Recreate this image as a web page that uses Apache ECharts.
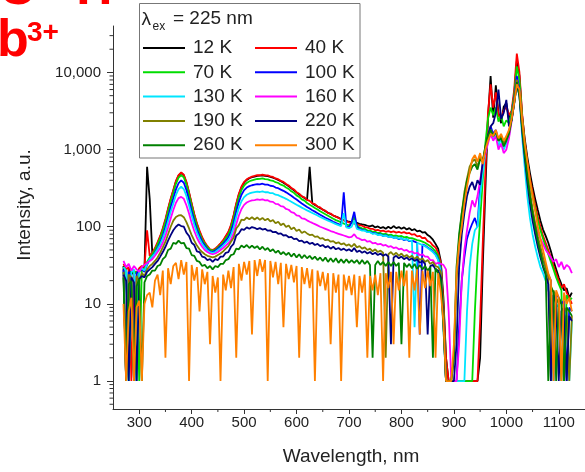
<!DOCTYPE html>
<html><head><meta charset="utf-8">
<script src="https://cdn.jsdelivr.net/npm/echarts@6/dist/echarts.min.js"></script>
<style>html,body{margin:0;padding:0;background:#fff}#c{width:585px;height:472px}</style>
</head><body><div id="c"></div>
<script>
const FONT = "'Liberation Sans', Arial, sans-serif";
const wavelength = [
270,275,280,285,290,295,300,305,310,315,
320,325,330,335,340,345,350,355,360,365,
370,375,380,385,390,395,400,405,410,415,
420,425,430,435,440,445,450,455,460,465,
470,475,480,485,490,495,500,505,510,515,
520,525,530,535,540,545,550,555,560,565,
570,575,580,585,590,595,600,605,610,615,
620,625,630,635,640,645,650,655,660,665,
670,675,680,685,690,695,700,705,710,715,
720,725,730,735,740,745,750,755,760,765,
770,775,780,785,790,795,800,805,810,815,
820,825,830,835,840,845,850,855,860,865,
870,875,880,885,890,895,
900,905,910,915,920,925,930,935,940,945,
950,955,960,965,970,975,980,985,990,995,
1000,1005,1010,1015,1020,1025,1030,1035,1040,1045,
1050,1055,1060,1065,1070,1075,1080,1085,1090,1095,
1100,1105,1110,1115,1120,1125];

const s12K = [
31,1,29,24,27,1,26,30,28,600,
230,44,51,60,74,93,121,168,226,295,
385,460,498,465,372,275,196,142,108,86,
71,61,55,50,49,51,55,60,65,74,
84,103,138,194,262,324,372,404,425,438,
447,455,460,463,458,452,444,433,419,404,
389,373,354,335,316,297,279,262,248,235,
223,600,202,192,183,174,167,159,152,146,
140,135,131,126,122,119,116,115,113,112,
109,107,106,103,101,104,98,101,96,99,
94,100,95,102,96,99,94,98,92,96,
90,93,87,89,84,85,78,74,68,60,
52,36,12,2,1,1,
1,1,1,1,1,1,1,1,1,1,
2,30,300,2500,9000,2600,6800,3000,2200,3600,
4000,2500,3000,5200,14000,9000,2800,1400,800,500,
330,230,165,120,92,76,62,48,36,28,
22,18,15,16,12,14];

const s40K = [
33,28,30,1,27,25,29,31,30,90,
42,46,53,63,76,96,126,172,232,300,
392,468,505,472,382,281,201,146,111,89,
73,63,56,51,50,52,56,61,67,76,
86,106,142,200,268,332,380,412,432,446,
455,466,465,475,463,462,449,442,423,413,
393,382,358,343,318,304,280,268,248,240,
223,216,201,196,182,178,165,162,150,148,
140,135,130,125,121,117,114,112,110,107,
105,103,99,98,94,94,90,91,88,89,
86,88,85,87,84,86,83,85,82,83,
79,80,75,76,71,72,65,63,57,54,
46,34,10,2,1,1,
1,1,1,1,1,1,1,1,1,1,
6,60,500,3000,7000,3500,5500,2800,2500,3200,
3600,2800,3200,6000,17600,10000,3000,1300,700,420,
280,190,135,100,76,62,50,40,31,25,
20,16,18,14,12,10];

const s70K = [
30,27,1,28,25,26,1,29,28,35,
40,44,50,59,71,89,116,158,212,275,
360,432,465,436,352,258,185,134,102,82,
68,60,54,50,49,50,54,58,63,71,
79,96,128,180,241,298,342,370,389,400,
408,416,417,423,413,412,399,394,378,369,
351,342,322,309,288,275,255,244,226,218,
203,193,184,175,167,159,152,145,139,133,
127,122,118,114,110,107,104,112,135,104,
98,95,94,90,89,86,86,83,83,80,
81,78,79,76,77,75,76,73,74,71,
71,69,67,66,64,62,59,56,52,48,
42,30,8,1,1,1,
1,1,1,1,1,1,1,1,8,40,
120,400,1200,2500,3500,2800,3500,2300,2800,2000,
2400,2200,3000,5000,12000,8000,2600,1200,650,380,
250,170,120,90,70,55,44,35,28,22,
18,15,1,13,11,12];

const s100K = [
28,1,26,24,1,25,27,28,26,32,
38,41,46,53,63,77,99,134,180,234,
305,366,400,372,300,222,160,118,92,76,
64,57,51,48,47,49,52,56,60,66,
73,86,112,158,210,260,298,322,336,345,
351,356,355,361,351,351,340,337,322,316,
303,292,279,265,252,238,225,212,200,190,
180,172,164,157,150,143,137,131,126,121,
116,112,108,104,280,100,98,115,156,100,
94,91,90,86,86,82,83,79,80,76,
78,74,75,72,73,69,71,67,69,65,
66,64,62,4,59,57,54,51,48,44,
38,28,6,1,1,1,
1,1,5,20,40,70,90,110,130,100,
350,600,1000,1500,2000,1600,1800,1300,1500,1100,
1300,1600,2600,4500,9000,6000,2000,900,450,250,
150,100,70,50,38,30,24,20,1,14,
12,10,11,1,9,8];

const s130K = [
30,27,1,26,28,1,27,29,27,33,
38,41,45,51,59,71,89,118,156,200,
258,308,330,308,250,188,140,106,84,70,
60,54,49,47,46,47,50,53,57,62,
67,78,98,134,176,214,242,260,270,277,
281,285,282,288,280,281,272,272,260,257,
247,239,230,220,211,202,193,185,177,170,
163,157,151,145,140,134,129,124,120,116,
112,108,105,102,150,98,96,100,120,94,
92,89,89,85,85,81,82,78,79,76,
77,74,75,72,73,70,71,68,69,66,
66,5,62,60,58,56,53,50,47,43,
37,26,5,1,1,1,
1,1,1,1,1,8,30,60,90,100,
250,500,900,1300,1800,1400,1600,1100,1400,1000,
1200,1500,2500,4000,7000,5000,1500,600,250,130,
80,55,40,30,25,20,15,12,1,10,
9,1,8,7,1,6];

const s160K = [
36,30,33,27,31,28,26,30,32,34,
36,38,42,47,53,62,76,98,128,165,
205,235,244,230,190,148,112,88,72,62,
55,50,47,45,44,45,47,50,53,57,
61,68,82,108,140,170,192,206,214,219,
222,226,223,227,220,221,211,210,198,196,
185,182,170,166,155,151,140,138,128,127,
121,116,112,108,104,100,97,94,91,88,
86,83,81,79,77,75,73,74,80,72,
70,67,68,64,65,61,62,59,60,57,
58,55,56,53,54,51,52,49,50,47,
48,45,46,43,44,41,41,37,37,33,
34,33,32,28,8,1,
1,1,3,20,50,90,150,220,180,250,
400,650,900,1200,1600,1300,1500,1000,1200,900,
1000,1400,2300,4000,8000,5500,2000,900,450,250,
160,110,85,70,60,50,45,40,35,38,
30,35,28,32,30,25];

const s190K = [
26,1,24,22,1,23,20,25,23,28,
31,33,36,40,46,54,64,80,100,120,
134,140,141,133,115,95,78,66,57,51,
47,44,42,41,40,41,43,45,48,52,
56,64,72,95,105,124,122,132,125,133,
124,132,123,130,121,127,117,122,111,116,
105,110,99,104,93,98,88,92,83,87,
82,78,79,74,75,70,71,67,68,64,
65,61,63,59,61,57,59,55,60,54,
56,52,54,50,52,48,51,47,49,46,
2,44,47,43,46,42,45,41,43,40,
42,38,41,37,39,35,37,33,35,31,
30,26,8,1,1,1,
2,20,70,150,280,420,600,700,750,600,
800,700,1100,1500,1800,1500,1700,1300,1500,1200,
1400,1700,2500,4200,8000,5500,2200,1000,500,280,
170,110,75,55,40,30,22,1,15,12,
10,1,9,8,1,7];

const s220K = [
24,20,1,22,19,1,21,23,22,26,
28,30,33,36,41,47,55,66,78,90,
100,107,102,100,84,76,62,58,48,47,
41,40,37,38,35,38,37,41,41,46,
47,55,60,77,82,93,91,98,94,99,
97,93,96,92,94,89,90,85,86,81,
82,77,78,73,74,69,70,65,66,62,
64,60,62,58,60,56,58,54,56,52,
55,51,53,50,52,49,51,48,53,47,
49,46,48,45,47,44,46,43,45,42,
44,41,3,40,42,39,41,38,40,37,
39,36,38,34,36,33,4,31,32,28,
27,22,6,1,1,1,
1,3,30,80,150,250,330,380,300,400,
350,700,1000,1500,2000,2200,3000,6000,2500,3000,
4400,2000,2400,4000,7000,5000,1800,800,380,200,
120,80,55,40,30,24,18,1,13,10,
1,8,9,1,7,6];

const s260K = [
22,1,18,20,1,17,21,1,19,23,
24,27,27,31,32,38,41,50,52,62,
60,66,61,62,53,52,43,42,36,35,
31,32,29,31,28,31,30,33,33,37,
38,43,44,52,51,57,54,58,53,57,
53,56,51,55,50,53,48,51,46,49,
44,47,43,46,41,45,40,44,39,43,
39,42,38,41,37,40,36,40,35,39,
35,39,34,38,34,38,34,37,34,37,
33,37,33,36,32,2,32,36,32,35,
31,35,31,35,31,34,3,34,30,33,
29,33,28,32,28,31,27,30,2,29,
25,20,5,1,1,1,
2,30,80,150,250,400,500,600,650,550,
750,700,1100,1500,1800,1500,1700,1300,1400,1100,
1300,1600,2400,4000,7500,5000,2000,900,450,250,
150,100,65,45,32,25,1,17,14,1,
12,10,1,9,8,7];

const s300K = [
10,1,8,12,1,9,11,1,10,13,
14,9,20,24,13,27,2,29,18,31,
34,21,37,24,35,1,32,20,30,8,
28,18,26,3,23,14,22,1,24,15,
27,16,30,2,33,20,35,24,36,4,
37,23,38,26,37,1,36,22,35,18,
34,5,33,21,32,19,31,2,30,18,
29,16,28,1,27,17,26,15,25,3,
25,14,24,1,24,15,23,13,24,5,
23,14,24,2,23,15,24,13,25,1,
25,16,26,3,26,15,27,17,27,2,
27,15,28,4,27,16,27,17,26,2,
25,14,6,1,1,1,
3,25,60,100,200,330,500,750,850,700,
900,650,1000,1300,1600,1500,1800,1400,1600,1300,
1500,1800,2500,4000,7000,6000,2500,1200,700,400,
250,160,100,70,50,35,25,20,1,15,
12,1,14,10,12,8];

const seriesNames = ['12 K','40 K','70 K','100 K','130 K','160 K','190 K','220 K','260 K','300 K'];
const seriesValues = [s12K,s40K,s70K,s100K,s130K,s160K,s190K,s220K,s260K,s300K];
const seriesColors = ['#000000','#ff0000','#00dd00','#0000ff','#00e5ff','#ff00ff','#808000','#000080','#008000','#ff8000'];
const legendLeft = ['12 K','70 K','130 K','190 K','260 K'];
const legendRight = ['40 K','100 K','160 K','220 K','300 K'];
const X_MIN = 250, X_MAX = 1150, Y_MIN = 0.434, Y_MAX = 40000;
const xMinorTicks = [350,450,550,650,750,850,950,1050];
const yMinorTicks = [0.5,0.6,0.7,0.8,0.9,2,3,4,5,6,7,8,9,20,30,40,50,60,70,80,90,
  200,300,400,500,600,700,800,900,2000,3000,4000,5000,6000,7000,8000,9000,20000,30000];
const AX = '#333';

const bad = seriesValues.map((a,i)=>a.length!==wavelength.length ? seriesNames[i]+':'+a.length : null).filter(Boolean);

const chart = echarts.init(document.getElementById('c'), null, {renderer:'canvas'});
const lineSeries = seriesNames.map((n,i)=>({
  type:'line', name:n, color:seriesColors[i],
  data: wavelength.map((w,j)=>[w, seriesValues[i][j]]),
  symbol:'none', showSymbol:false, animation:false,
  lineStyle:{width:1.8, color:seriesColors[i]}, z:2
}));
const legendCommon = {
  orient:'vertical', top:38, itemWidth:42, itemHeight:2, itemGap:4.3, icon:'rect', padding:0,
  textStyle:{fontSize:19, lineHeight:20, color:'#222', fontFamily:FONT, padding:[0,0,0,3]}
};
const graphics = [
  {type:'rect', shape:{x:139.5, y:3.5, width:220.5, height:154.5}, style:{fill:'none', stroke:'#777', lineWidth:1}},
  {type:'text', x:141.5, y:20, style:{text:'\u03bb', fontSize:19, fontFamily:FONT, fill:'#222', verticalAlign:'middle'}},
  {type:'text', x:152.5, y:27, style:{text:'ex', fontSize:12, fontFamily:FONT, fill:'#222', verticalAlign:'middle'}},
  {type:'text', x:173, y:19, style:{text:'= 225 nm', fontSize:19, fontFamily:FONT, fill:'#222', verticalAlign:'middle'}},
  {type:'text', x:24.5, y:205, rotation:Math.PI/2, style:{text:'Intensity, a.u.', fontSize:19, fontFamily:FONT, fill:'#222', align:'center', verticalAlign:'middle'}},
  {type:'text', x:351, y:457, style:{text:'Wavelength, nm', fontSize:19, fontFamily:FONT, fill:'#222', align:'center', verticalAlign:'middle'}},
  {type:'text', x:-3, y:42, style:{text:'b', fontSize:52, fontWeight:'bold', fontFamily:FONT, fill:'#ff0000', verticalAlign:'middle'}},
  {type:'text', x:27, y:33, style:{text:'3+', fontSize:28, fontWeight:'bold', fontFamily:FONT, fill:'#ff0000', verticalAlign:'middle'}},
  {type:'text', x:-2, y:-10, style:{text:'C', fontSize:52, fontWeight:'bold', fontFamily:FONT, fill:'#ff0000', verticalAlign:'middle'}},
  {type:'text', x:66, y:-10, style:{text:'Y:', fontSize:52, fontWeight:'bold', fontFamily:FONT, fill:'#ff0000', verticalAlign:'middle'}}
];
if (bad.length) graphics.push({type:'text', x:200, y:300, style:{text:'LEN '+bad.join(' '), fontSize:14, fill:'#f00'}});

chart.setOption({
  animation:false,
  backgroundColor:'#fff',
  grid:{left:113, top:26, width:476, height:383, containLabel:false},
  xAxis:{type:'value', min:X_MIN, max:X_MAX, splitNumber:9,
    axisLine:{show:true, onZero:false, lineStyle:{color:AX, width:1}},
    axisTick:{show:true, length:5, lineStyle:{color:AX}},
    splitLine:{show:false},
    axisLabel:{margin:6.5, fontSize:15, color:'#222', fontFamily:FONT, showMinLabel:false, showMaxLabel:false,
      formatter:v=> (v % 100 === 0 && v>=300 && v<=1100) ? String(v) : ''}},
  yAxis:{type:'log', logBase:10, min:Y_MIN, max:Y_MAX,
    axisLine:{show:true, lineStyle:{color:AX, width:1}},
    axisTick:{show:true, length:6, lineStyle:{color:AX}},
    splitLine:{show:false},
    axisLabel:{margin:12, fontSize:15, color:'#222', fontFamily:FONT, showMinLabel:false, showMaxLabel:false,
      formatter:v=>{ const l=Math.log10(v); if (Math.abs(l-Math.round(l))>1e-6) return ''; return String(Math.round(v)).replace(/\B(?=(\d{3})+(?!\d))/g, ','); }}},
  legend:[
    Object.assign({}, legendCommon, {left:143, data:legendLeft}),
    Object.assign({}, legendCommon, {left:255, data:legendRight})
  ],
  graphic:graphics,
  series: lineSeries.concat([
    {type:'custom', name:'yMinor', silent:true, clip:false, z:5,
     data:yMinorTicks.map(v=>[X_MIN, v]),
     renderItem:(p,api)=>{ const c=api.coord([api.value(0), api.value(1)]);
       return {type:'line', shape:{x1:c[0]-3.5, y1:c[1], x2:c[0], y2:c[1]}, style:{stroke:AX, lineWidth:1}}; }},
    {type:'custom', name:'xMinor', silent:true, clip:false, z:5,
     data:xMinorTicks.map(v=>[v, Y_MIN]),
     renderItem:(p,api)=>{ const c=api.coord([api.value(0), api.value(1)]);
       return {type:'line', shape:{x1:c[0], y1:c[1], x2:c[0], y2:c[1]+3}, style:{stroke:AX, lineWidth:1}}; }}
  ])
});
</script></body></html>
